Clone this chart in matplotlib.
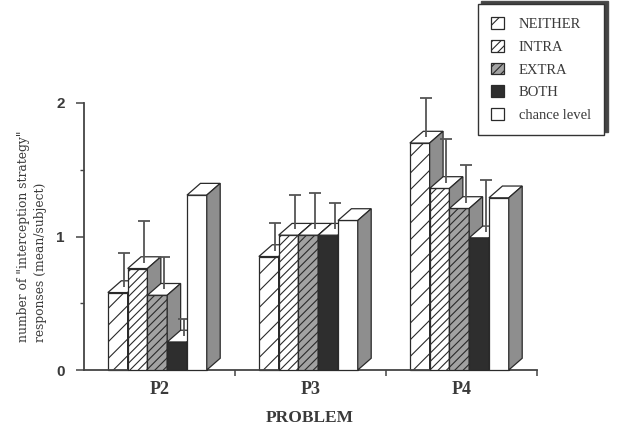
import matplotlib
matplotlib.use('Agg')
import matplotlib.pyplot as plt
from matplotlib.patches import Polygon, Patch

# values
problems = ['P2', 'P3', 'P4']
conditions = ['NEITHER', 'INTRA', 'EXTRA', 'BOTH', 'chance level']
neither = [0.58, 0.85, 1.70]
intra = [0.76, 1.01, 1.36]
extra = [0.56, 1.01, 1.21]
both = [0.21, 1.01, 0.99]
chance = [1.31, 1.12, 1.29]
err_neither = [0.25, 0.21, 0.29]
err_intra = [0.31, 0.26, 0.33]
err_extra = [0.24, 0.27, 0.28]
err_both = [0.13, 0.20, 0.39]

series = [neither, intra, extra, both, chance]
errors = [err_neither, err_intra, err_extra, err_both, None]

# look of each condition: face colour, hatch
faces = ['white', 'white', '#a2a2a2', '#2e2e2e', 'white']
hatches = ['//', '////', '////', None, None]
side_col = '#8e8e8e'
edge = '#2a2a2a'
ink = '#3a3a3a'

plt.rcParams['hatch.linewidth'] = 0.8

fig = plt.figure(figsize=(6.17, 4.32), dpi=100)
ax = fig.add_axes([84 / 617, 62 / 432, 453 / 617, 267 / 432])

width = 0.131      # bar width in group units
offset = 0.158     # first bar left edge inside a group
dx, dy = 0.089, 0.088   # fake 3D depth

for g in range(len(problems)):
    for k, vals in enumerate(series):
        h = vals[g]
        x0 = g + offset + k * width
        z = 2 + k
        ax.bar(x0, h, width, align='edge', color=faces[k], hatch=hatches[k],
               edgecolor=edge, linewidth=0.9, zorder=z, clip_on=False)
        x1 = x0 + width
        top = Polygon([(x0, h), (x1, h), (x1 + dx, h + dy), (x0 + dx, h + dy)],
                      closed=True, facecolor='white', edgecolor=edge,
                      linewidth=0.9, zorder=z + 0.1, clip_on=False)
        side = Polygon([(x1, 0), (x1 + dx, dy), (x1 + dx, h + dy), (x1, h)],
                       closed=True, facecolor=side_col, edgecolor=edge,
                       linewidth=0.9, zorder=z + 0.1, clip_on=False)
        ax.add_patch(top)
        ax.add_patch(side)
        if errors[k] is not None:
            e = errors[k][g]
            xe = x0 + width / 2 + dx / 2
            yb = h + dy / 2
            ax.plot([xe, xe], [yb, yb + e], color='#555555', lw=1.3,
                    zorder=z + 0.2, clip_on=False, solid_capstyle='butt')
            ax.plot([xe], [yb + e], marker='_', ms=8.6, mew=1.3,
                    color='#555555', zorder=z + 0.2, clip_on=False)

ax.set_xlim(0, 3)
ax.set_ylim(0, 2)

for s in ['top', 'right']:
    ax.spines[s].set_visible(False)
for s in ['left', 'bottom']:
    ax.spines[s].set_color('#444444')
    ax.spines[s].set_linewidth(1.3)

ax.set_xticks([1, 2, 3], labels=['', '', ''])
ax.set_xticks([0.5, 1.5, 2.5], labels=problems, minor=True)
ax.tick_params(axis='x', which='major', direction='out', length=4,
               width=1.1, color='#444444')
ax.tick_params(axis='x', which='minor', length=0, pad=8)
for lab in ax.get_xticklabels(minor=True):
    lab.set_fontfamily('Liberation Serif')
    lab.set_fontweight('bold')
    lab.set_fontsize(13)
    lab.set_color(ink)

ax.set_yticks([0, 1, 2])
ax.set_yticks([0.5, 1.5], minor=True)
ax.tick_params(axis='y', which='major', direction='out', length=6,
               width=1.1, color='#444444', pad=8)
ax.tick_params(axis='y', which='minor', direction='out', length=3,
               width=1.0, color='#444444')
for lab in ax.get_yticklabels():
    lab.set_fontfamily('Liberation Sans')
    lab.set_fontweight('bold')
    lab.set_fontsize(11)
    lab.set_color(ink)

fig.text(310 / 617, 1 - 418 / 432, 'PROBLEM', ha='center', va='center',
         fontfamily='Liberation Serif', fontweight='bold', fontsize=12.5,
         color=ink)
fig.text(32 / 617, 1 - 342 / 432,
         'number of "interception strategy"\nresponses (mean/subject)',
         rotation=90, ha='center', va='bottom', multialignment='left',
         fontfamily='DejaVu Serif', fontsize=8.8, color=ink, linespacing=1.35)

handles = [Patch(facecolor=faces[k], hatch=hatches[k], edgecolor=edge,
                 linewidth=0.9) for k in range(len(conditions))]
leg = fig.legend(handles, conditions, loc='upper left',
                 bbox_to_anchor=(478 / 617, 1 - 4 / 432),
                 prop={'family': 'Liberation Serif', 'size': 10.5},
                 frameon=True, fancybox=False, borderpad=0.9,
                 labelspacing=0.61, handlelength=0.85, handleheight=0.85,
                 handletextpad=1.05, borderaxespad=0,
                 shadow={'ox': 2.5, 'oy': 2.5, 'facecolor': '#444444',
                         'alpha': 1.0})
leg.get_frame().set_edgecolor('#333333')
leg.get_frame().set_linewidth(1.0)
for t in leg.get_texts():
    t.set_color(ink)

fig.savefig('out.png', dpi=100)
